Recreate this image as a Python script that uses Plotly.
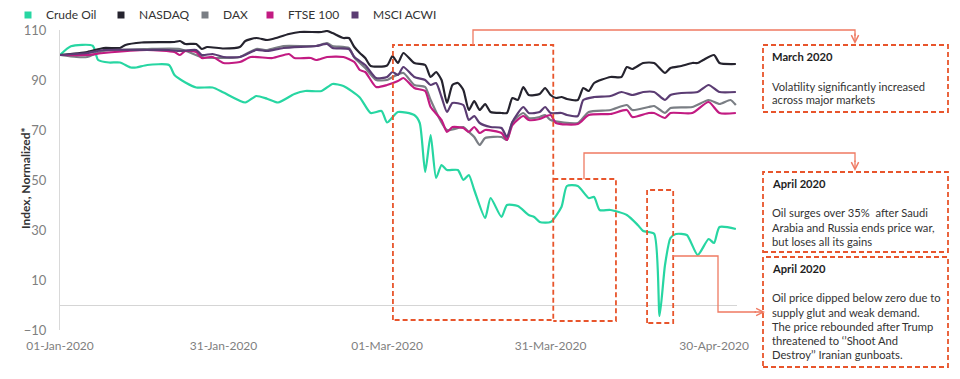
import plotly.graph_objects as go
from datetime import datetime

# ---------------- data ----------------
oil_dates = ["2020-01-01","2020-01-03","2020-01-07","2020-01-08","2020-01-10","2020-01-12","2020-01-14","2020-01-15",
             "2020-01-17","2020-01-21","2020-01-22","2020-01-24","2020-01-26","2020-01-29","2020-01-31","2020-02-04",
             "2020-02-06","2020-02-08","2020-02-10","2020-02-13","2020-02-15","2020-02-18","2020-02-20","2020-02-22",
             "2020-02-25","2020-02-27","2020-02-29","2020-03-01","2020-03-03","2020-03-06","2020-03-07","2020-03-08",
             "2020-03-09","2020-03-10","2020-03-11","2020-03-12","2020-03-14","2020-03-15","2020-03-16","2020-03-17",
             "2020-03-19","2020-03-20","2020-03-22","2020-03-23","2020-03-25","2020-03-27","2020-03-28","2020-03-29",
             "2020-03-31","2020-04-02","2020-04-03","2020-04-05","2020-04-07","2020-04-08","2020-04-09","2020-04-11",
             "2020-04-14","2020-04-16","2020-04-17","2020-04-19","2020-04-20","2020-04-21","2020-04-22","2020-04-23",
             "2020-04-25","2020-04-27","2020-04-29","2020-04-30","2020-05-01","2020-05-04"]
oil_values = [100, 103.5, 103.7, 98, 97, 97, 95, 95,
              96, 96, 92, 89, 87, 87, 85, 81,
              83.6, 82.5, 81, 84.4, 85.6, 85.6, 88.4, 87.6,
              83, 76.8, 77.6, 73, 77.2, 76, 72.8, 53.2,
              68, 50.8, 56, 54, 54, 50, 52, 46,
              34.8, 42.8, 35.2, 40, 39.6, 36, 35.2, 33.2,
              33.2, 39.2, 47.6, 47.6, 42.8, 43.2, 38, 38,
              36, 32, 29.6, 28.5, -4.4, 16, 26.8, 28.4,
              28, 20, 26.4, 24.8, 31.2, 30.4]

nasdaq_dates = ["2020-01-01","2020-01-06","2020-01-09","2020-01-12","2020-01-13","2020-01-16","2020-01-22","2020-01-23",
                "2020-01-24","2020-01-26","2020-01-27","2020-01-28","2020-01-31","2020-02-03","2020-02-04","2020-02-06",
                "2020-02-08","2020-02-09","2020-02-12","2020-02-14","2020-02-18","2020-02-19","2020-02-20","2020-02-22",
                "2020-02-23","2020-02-24","2020-02-25","2020-02-26","2020-02-27","2020-03-01","2020-03-02","2020-03-03",
                "2020-03-04","2020-03-06","2020-03-08","2020-03-09","2020-03-10","2020-03-11","2020-03-12","2020-03-13",
                "2020-03-14","2020-03-15","2020-03-16","2020-03-17","2020-03-18","2020-03-19","2020-03-20","2020-03-22",
                "2020-03-23","2020-03-24","2020-03-25","2020-03-26","2020-03-27","2020-03-29","2020-03-30","2020-03-31",
                "2020-04-01","2020-04-02","2020-04-03","2020-04-05","2020-04-06","2020-04-07","2020-04-08","2020-04-11",
                "2020-04-13","2020-04-14","2020-04-15","2020-04-17","2020-04-19","2020-04-21","2020-04-22","2020-04-24",
                "2020-04-26","2020-04-27","2020-04-28","2020-04-30","2020-05-01","2020-05-04"]
nasdaq_values = [100, 101.2, 102.8, 102.8, 104, 105, 105.2, 105.6,
                 104.4, 104.4, 102.4, 103.2, 102.6, 103.2, 105.6, 106.8,
                 106, 106.4, 108.4, 109.2, 109.2, 109.6, 108.8, 106.8,
                 106.8, 103.2, 100.8, 98.8, 95.6, 95.8, 99.6, 96.8,
                 100.8, 96.8, 96, 91.2, 93.2, 90, 80.8, 88,
                 88.8, 86, 78, 81.6, 78, 80.4, 77.2, 76.8,
                 76.8, 82.8, 82, 87.2, 84, 84.4, 86.8, 84,
                 82.8, 83.2, 82.4, 82, 86.8, 85.6, 88.8, 91.2,
                 91.2, 95.2, 94.4, 96.8, 96.8, 92.8, 94.8, 95.6,
                 96.8, 96.8, 98, 100, 96.8, 96.4]

msci_dates = ["2020-01-01","2020-01-06","2020-01-09","2020-01-17","2020-01-21","2020-01-23","2020-01-26","2020-01-27",
              "2020-01-29","2020-01-31","2020-02-03","2020-02-06","2020-02-08","2020-02-11","2020-02-17","2020-02-19",
              "2020-02-20","2020-02-23","2020-02-24","2020-02-26","2020-02-28","2020-03-01","2020-03-02","2020-03-03",
              "2020-03-04","2020-03-06","2020-03-08","2020-03-09","2020-03-10","2020-03-11","2020-03-12","2020-03-13",
              "2020-03-15","2020-03-16","2020-03-17","2020-03-18","2020-03-20","2020-03-22","2020-03-23","2020-03-24",
              "2020-03-26","2020-03-27","2020-03-29","2020-03-30","2020-03-31","2020-04-02","2020-04-03","2020-04-05",
              "2020-04-06","2020-04-08","2020-04-11","2020-04-13","2020-04-15","2020-04-17","2020-04-19","2020-04-21",
              "2020-04-22","2020-04-24","2020-04-27","2020-04-29","2020-05-01","2020-05-04"]
msci_values = [100, 100.8, 102, 102, 102, 101.6, 102, 100,
               100.4, 99.2, 99.2, 102, 101.6, 102.8, 103.6, 104.4,
               102.8, 102.4, 99.2, 96, 90.8, 91.2, 93.2, 92,
               95.2, 91.2, 90, 88, 88.8, 83.2, 77.2, 80.8,
               80, 74, 75.6, 72.8, 71.2, 70.8, 67.2, 73.2,
               79.2, 76.8, 77.2, 79.2, 76.8, 76.8, 76, 75.6,
               82, 83.2, 83.6, 85.2, 84, 85.2, 85.2, 82,
               84, 84.8, 85.2, 88, 85.2, 85.2]

dax_dates = ["2020-01-01","2020-01-04","2020-01-06","2020-01-09","2020-01-17","2020-01-23","2020-01-27","2020-01-31",
             "2020-02-03","2020-02-06","2020-02-08","2020-02-11","2020-02-17","2020-02-19","2020-02-20","2020-02-23",
             "2020-02-24","2020-02-26","2020-02-28","2020-03-01","2020-03-02","2020-03-04","2020-03-06","2020-03-08",
             "2020-03-09","2020-03-12","2020-03-15","2020-03-16","2020-03-17","2020-03-18","2020-03-19","2020-03-22",
             "2020-03-23","2020-03-24","2020-03-26","2020-03-27","2020-03-29","2020-03-30","2020-03-31","2020-04-05",
             "2020-04-07","2020-04-11","2020-04-14","2020-04-15","2020-04-18","2020-04-19","2020-04-21","2020-04-22",
             "2020-04-26","2020-04-29","2020-05-01","2020-05-03","2020-05-04"]
dax_values = [100, 99.2, 99.2, 101.6, 102.4, 102.4, 99.2, 98.8,
              99.2, 102.4, 102, 103.6, 103.6, 104.8, 103.6, 102.8,
              99, 94.8, 90, 90, 91.2, 92.8, 88, 87.2,
              82, 70, 71.2, 69.2, 67.2, 64, 66.8, 67.2,
              66, 73.2, 76.8, 74.8, 75.2, 76, 74, 72.8,
              77.2, 78, 80, 78, 79.2, 79.6, 76.8, 78.8,
              79.2, 82, 80.4, 82, 80]

ftse_dates = ["2020-01-01","2020-01-06","2020-01-09","2020-01-17","2020-01-22","2020-01-23","2020-01-24","2020-01-26",
              "2020-01-27","2020-01-29","2020-01-31","2020-02-03","2020-02-05","2020-02-09","2020-02-12","2020-02-13",
              "2020-02-16","2020-02-17","2020-02-19","2020-02-22","2020-02-24","2020-02-25","2020-02-26","2020-02-28",
              "2020-03-01","2020-03-03","2020-03-04","2020-03-06","2020-03-08","2020-03-09","2020-03-11","2020-03-12",
              "2020-03-13","2020-03-15","2020-03-16","2020-03-17","2020-03-18","2020-03-19","2020-03-22","2020-03-23",
              "2020-03-24","2020-03-26","2020-03-27","2020-03-29","2020-03-31","2020-04-01","2020-04-05","2020-04-07",
              "2020-04-11","2020-04-14","2020-04-15","2020-04-18","2020-04-19","2020-04-21","2020-04-22","2020-04-26",
              "2020-04-29","2020-05-01","2020-05-04"]
ftse_values = [100, 100, 100.8, 102, 101.2, 100, 101.6, 101.2,
               98.8, 99.2, 96.8, 97.2, 99.2, 98.8, 100.4, 98.8,
               98.8, 98, 99.2, 99.2, 97.2, 94, 93.2, 87.2,
               88, 89.6, 90.8, 86.8, 85.6, 79.2, 74, 69.2,
               71.2, 70.8, 69.2, 71.2, 68.8, 70, 68.8, 66,
               72, 75.6, 74, 74.4, 76, 72.8, 72.4, 76,
               76.4, 78, 75.2, 76.8, 76.8, 74.8, 76.8, 76.8,
               81.2, 76.8, 76.8]

series_names = ["Crude Oil", "NASDAQ", "DAX", "FTSE 100", "MSCI ACWI"]
series_colors = ["#27d6a2", "#25232e", "#7a7e84", "#c21b82", "#5b3c73"]

tick_dates = ["2020-01-01", "2020-01-31", "2020-03-01", "2020-03-31", "2020-04-30"]
tick_labels = ["01-Jan-2020", "31-Jan-2020", "01-Mar-2020", "31-Mar-2020", "30-Apr-2020"]
y_ticks = [-10, 10, 30, 50, 70, 90, 110]

# ---------------- figure ----------------
FONT = "Lato, 'Open Sans', sans-serif"
PAGE_OFF = 8                      # default body margin of the html page
L, T, W, H = 60, 30, 677, 300     # plot area in screen pixels
FIG_W, FIG_H = 960 - PAGE_OFF, 379 - PAGE_OFF
X_RANGE = ["2020-01-01 00:00", "2020-05-04 05:00"]
Y_RANGE = [-10, 110]

def px(x):
    return (x - L) / W

def py(y):
    return (T + H - y) / H

_x0 = datetime.fromisoformat(X_RANGE[0])
_x1 = datetime.fromisoformat(X_RANGE[1])

def dx(date_str):   # date -> paper x
    return (datetime.fromisoformat(date_str) - _x0) / (_x1 - _x0)

def dy(v):          # value -> paper y
    return (v - Y_RANGE[0]) / (Y_RANGE[1] - Y_RANGE[0])

fig = go.Figure()
data_map = {
    "Crude Oil": (oil_dates, oil_values),
    "NASDAQ": (nasdaq_dates, nasdaq_values),
    "DAX": (dax_dates, dax_values),
    "FTSE 100": (ftse_dates, ftse_values),
    "MSCI ACWI": (msci_dates, msci_values),
}
for name, color in zip(series_names, series_colors):
    xs, ys = data_map[name]
    fig.add_trace(go.Scatter(x=xs, y=ys, mode="lines", name=name, showlegend=False,
                             line=dict(color=color, width=2.2, shape="spline", smoothing=0.6),
                             hoverinfo="skip"))

ORANGE = "#e8552c"
SALMON = "#ef7a62"
DASH = "5px,3px"
shapes = []
annotations = []

# legend (manual, square swatches)
legend_swatch_x = [28, 121, 205, 270, 355]
LEG_Y = 15
for name, color, sx in zip(series_names, series_colors, legend_swatch_x):
    shapes.append(dict(type="rect", xref="paper", yref="paper", x0=px(sx - 3.5), x1=px(sx + 3.5),
                       y0=py(LEG_Y + 3.5), y1=py(LEG_Y - 3.5), fillcolor=color, line=dict(width=0)))
    annotations.append(dict(xref="paper", yref="paper", x=px(sx + 16), y=py(LEG_Y), text=name, showarrow=False,
                            xanchor="left", yanchor="middle", font=dict(family=FONT, size=12, color="#333")))

# y axis title
annotations.append(dict(xref="paper", yref="paper", x=px(25), y=py(178), text="<b>Index, Normalized*</b>",
                        textangle=-90, showarrow=False, xanchor="center", yanchor="middle",
                        font=dict(family=FONT, size=12, color="#333")))

# highlighted regions on the chart (date / value corners)
regions = [
    ("2020-03-02 02:00", "2020-03-31 12:00", -6.0, 104.0, True),
    ("2020-03-31 12:00", "2020-04-12 00:00", -6.4, 50.4, False),   # shares its left edge with region 1
    ("2020-04-17 17:00", "2020-04-22 12:00", -7.2, 46.0, True),
]
for x0, x1, y0, y1, closed in regions:
    a, b, c, d = dx(x0), dx(x1), dy(y0), dy(y1)
    if closed:
        p = f"M {a},{c} L {a},{d} L {b},{d} L {b},{c} Z"
    else:
        p = f"M {a},{d} L {b},{d} L {b},{c} L {a},{c}"
    shapes.append(dict(type="path", xref="paper", yref="paper", path=p,
                       line=dict(color=ORANGE, width=1.8, dash=DASH)))
# text boxes (paper coordinates)
boxes = [(763, 45, 948, 112), (763, 172, 948, 252), (763, 257, 948, 367)]
for x0, y0, x1, y1 in boxes:
    shapes.append(dict(type="rect", xref="paper", yref="paper", x0=px(x0), x1=px(x1),
                       y0=py(y1), y1=py(y0), line=dict(color=ORANGE, width=1.8, dash=DASH)))
# connectors
def path(points):
    d = "M " + " L ".join(f"{px(a):.5f},{py(b):.5f}" for a, b in points)
    return dict(type="path", xref="paper", yref="paper", path=d, line=dict(color=SALMON, width=1.3))
shapes.append(path([(473, 45), (473, 30), (855, 30), (855, 36)]))
shapes.append(path([(584, 179), (584, 153), (855, 153), (855, 162)]))
shapes.append(path([(673, 256), (718, 256), (718, 312), (756, 312)]))

# arrowheads
for (tx, ty, ax, ay) in [(855, 44, 0, -12), (855, 171, 0, -12), (765, 312, -12, 0)]:
    annotations.append(dict(xref="paper", yref="paper", x=px(tx), y=py(ty), text="", showarrow=True,
                            arrowhead=5, arrowsize=1.1, arrowwidth=1.3, arrowcolor=SALMON,
                            ax=ax, ay=ay, axref="pixel", ayref="pixel"))

def text(x, y, s, bold=False):
    annotations.append(dict(xref="paper", yref="paper", x=px(x), y=py(y), text=(f"<b>{s}</b>" if bold else s),
                            showarrow=False, xanchor="left", yanchor="middle", align="left",
                            font=dict(family=FONT, size=11.2, color="#1e1e1e" if bold else "#333")))

text(770, 57, "March 2020", True)
text(770, 86, "Volatility significantly increased")
text(770, 100, "across major markets")
text(770, 183, "April 2020", True)
text(770, 212, "Oil surges over 35%  after Saudi")
text(770, 227, "Arabia and Russia ends price war,")
text(770, 241, "but loses all its gains")
text(770, 268, "April 2020", True)
text(770, 297, "Oil price dipped below zero due to")
text(770, 312, "supply glut and weak demand.")
text(770, 326, "The price rebounded after Trump")
text(770, 340, "threatened to \u2018\u2019Shoot And")
text(770, 354, "Destroy\u2019\u2019 Iranian gunboats.")

fig.update_layout(
    width=FIG_W, height=FIG_H,
    margin=dict(l=L - PAGE_OFF, r=FIG_W - (L - PAGE_OFF) - W, t=T - PAGE_OFF,
                b=FIG_H - (T - PAGE_OFF) - H, pad=0, autoexpand=False),
    paper_bgcolor="white", plot_bgcolor="white",
    font=dict(family=FONT, size=12, color="#333"),
    showlegend=False,
    shapes=shapes,
    annotations=annotations,
    xaxis=dict(type="date", range=X_RANGE, showgrid=False, zeroline=False,
               showline=False, tickvals=tick_dates, ticktext=tick_labels, ticks="",
               tickfont=dict(family=FONT, size=12, color="#7f7f7f"), ticklabelstandoff=7),
    yaxis=dict(range=Y_RANGE, tickvals=y_ticks, showgrid=False, zeroline=True, zerolinecolor="#d5d5d5",
               zerolinewidth=1, showline=True, linecolor="#d9d9d9", linewidth=1, ticks="",
               tickfont=dict(family=FONT, size=13, color="#7f7f7f"), ticklabelstandoff=10),
)

fig.write_html("out.html")
